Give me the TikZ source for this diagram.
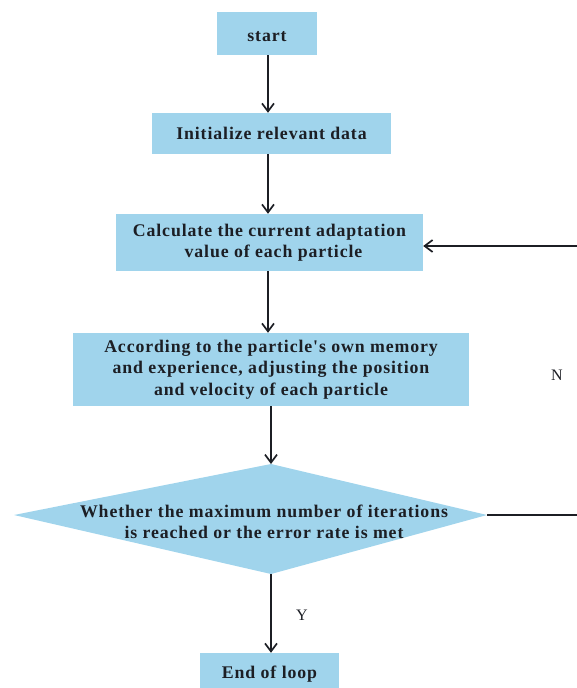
\documentclass[tikz,border=0pt]{standalone}
\usepackage{fontspec}
\setmainfont{Liberation Serif}
\newfontfamily\boxfont[LetterSpace=5]{Liberation Serif}
\usetikzlibrary{arrows.meta}
\definecolor{boxblue}{RGB}{160,212,236}
\definecolor{ink}{RGB}{28,30,36}
\tikzset{
  x=1pt,y=-1pt,
  stepbox/.style={fill=boxblue,draw=none,inner sep=0pt,align=center,
    font=\boxfont\bfseries\fontsize{17.8}{21.5}\selectfont,text=ink},
  flow/.style={draw=ink,line width=1.9pt,-{Straight Barb[length=8pt,width=12pt,line width=1.7pt]}},
  plain/.style={draw=ink,line width=1.9pt},
  lbl/.style={font=\fontsize{16}{18}\selectfont,text=ink,inner sep=0pt}
}
\begin{document}
\begin{tikzpicture}
\useasboundingbox (0,0) rectangle (577,688);
\node[stepbox,minimum width=100pt,minimum height=43pt] (start) at (267,33.5) {\raisebox{-3pt}[\height][\depth]{start}};
\node[stepbox,minimum width=239pt,minimum height=41pt] (init) at (271.5,133.5) {Initialize relevant data};
\node[stepbox,minimum width=307pt,minimum height=57pt] (calc) at (269.5,242.5) {Calculate the current adaptation\\\hspace*{8pt}value of each particle};
\node[stepbox,minimum width=396pt,minimum height=73pt] (acc) at (271,369.5) {According to the particle's own memory\\and experience, adjusting the position\\and velocity of each particle};
\coordinate (dT) at (271,464);
\coordinate (dR) at (487,515);
\coordinate (dB) at (271,574);
\coordinate (dL) at (14,515);
\fill[boxblue] (dT) -- (dR) -- (dB) -- (dL) -- cycle;
\node[stepbox,fill=none] (dec) at (264,522) {Whether the maximum number of iterations\\is reached or the error rate is met};
\node[stepbox,minimum width=139pt,minimum height=36pt] (end) at (269.5,671) {\raisebox{-3pt}[\height][\depth]{End of loop}};
\coordinate (r1) at (577,515);
\coordinate (r2) at (577,246);
\draw[flow] (268,55) coordinate (s1) -- (s1 |- init.north);
\draw[flow] (268,154) coordinate (s2) -- (s2 |- calc.north);
\draw[flow] (268,271) coordinate (s3) -- (s3 |- acc.north);
\draw[flow] (dT |- acc.south) -- (dT);
\draw[flow] (dB) -- (dB |- end.north);
\draw[plain] (dR) -- (r1);
\draw[flow] (r2) -- (r2 -| calc.east);
\node[lbl] (N) at (557,375) {N};
\node[lbl] (Y) at (302,615) {Y};
\end{tikzpicture}
\end{document}
